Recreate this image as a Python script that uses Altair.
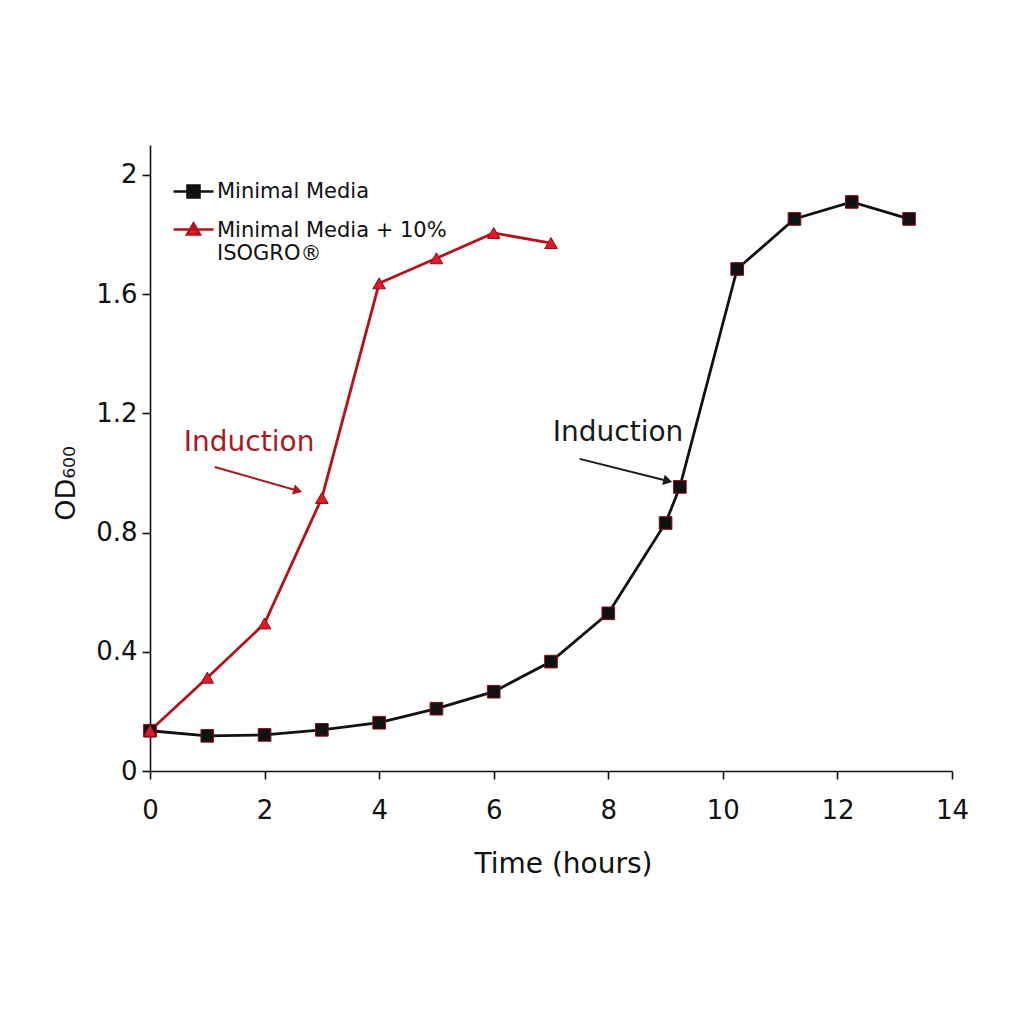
import altair as alt
import pandas as pd

# growth curves
mm_time = [0, 1, 2, 3, 4, 5, 6, 7, 8, 9, 9.25, 10.25, 11.25, 12.25, 13.25]
mm_od = [0.135, 0.118, 0.121, 0.138, 0.162, 0.209, 0.266, 0.367, 0.529, 0.832, 0.953, 1.684, 1.852, 1.909, 1.852]
iso_time = [0, 1, 2, 3, 4, 5, 6, 7]
iso_od = [0.135, 0.313, 0.495, 0.916, 1.636, 1.72, 1.805, 1.771]

series_names = ["Minimal Media", "Minimal Media + 10% ISOGRO®"]
line_colors = ["#111111", "#b3141c"]
marker_colors = ["#111111", "#e3192a"]

# annotations: label position, arrow start/end
ann_label = ["Induction", "Induction"]
ann_series = series_names[::-1]
ann_tx = [1.73, 8.17]
ann_ty = [1.10, 1.135]
ann_x1 = [1.13, 7.5]
ann_y1 = [1.02, 1.047]
ann_x2 = [2.58, 9.04]
ann_y2 = [0.94, 0.973]
ann_angle = [16, 14]

df = pd.concat([
    pd.DataFrame({"time": mm_time, "od": mm_od, "series": series_names[0]}),
    pd.DataFrame({"time": iso_time, "od": iso_od, "series": series_names[1]}),
])
ann = pd.DataFrame({"label": ann_label, "series": ann_series, "tx": ann_tx, "ty": ann_ty,
                    "x1": ann_x1, "y1": ann_y1, "x2": ann_x2, "y2": ann_y2, "angle": ann_angle})

font = "DejaVu Sans"
xs = alt.Scale(domain=[0, 14], nice=False)
ys = alt.Scale(domain=[0, 2.1], nice=False)
x = alt.X("time:Q", scale=xs, title="Time (hours)",
          axis=alt.Axis(values=list(range(0, 15, 2)), format="d", labelFlush=False, grid=False,
                        tickSize=8, labelPadding=18, titlePadding=27, titleFontSize=28, titleX=413))
y = alt.Y("od:Q", scale=ys, title="OD₆₀₀",
          axis=alt.Axis(values=[0, 0.4, 0.8, 1.2, 1.6, 2.0], grid=False, tickSize=8, labelPadding=5,
                        labelFlush=False, titlePadding=15, titleFontSize=27, titleY=338,
                        labelExpr="datum.value == 0 || datum.value == 2 ? format(datum.value, 'd') : format(datum.value, '.1f')"))

line_color = alt.Color("series:N", scale=alt.Scale(domain=series_names, range=line_colors), legend=None)

lines = alt.Chart(df).mark_line(strokeWidth=2.8).encode(x=x, y=y, color=line_color, detail="series:N")

points = alt.Chart(df).mark_point(filled=True, opacity=1, strokeWidth=1, stroke="#8a0c12").encode(
    x=x, y=y,
    fill=alt.Fill("series:N", scale=alt.Scale(domain=series_names, range=marker_colors), legend=None),
    shape=alt.Shape("series:N", scale=alt.Scale(domain=series_names, range=["square", "triangle-up"]), legend=None),
    size=alt.Size("series:N", scale=alt.Scale(domain=series_names, range=[160, 160]), legend=None),
)

# layer with no rows that only drives the legend (line + marker symbols);
# the scale domains are explicit so the legend still lists both series
legend_paths = [
    "M-1,0H1M-0.3,-0.3H0.3V0.3H-0.3Z",
    "M-1,-0.05H1M0,-0.35L0.32,0.2H-0.32Z",
]
legend_def = alt.Legend(title=None, orient="none", legendX=22, legendY=25,
                        symbolSize=1600, symbolStrokeWidth=2.6, symbolOpacity=1,
                        labelFont=font, labelFontSize=21, labelColor="#111",
                        labelLimit=400, labelOffset=2, rowPadding=6,
                        labelExpr="datum.label == 'Minimal Media' ? datum.label : ['Minimal Media + 10%', 'ISOGRO®']")
legend_layer = alt.Chart(df).transform_filter("datum.od < 0").mark_point(filled=True, opacity=1).encode(
    x=x, y=y,
    fill=alt.Fill("series:N", scale=alt.Scale(domain=series_names, range=marker_colors), legend=legend_def),
    stroke=alt.Stroke("series:N", scale=alt.Scale(domain=series_names, range=line_colors), legend=legend_def),
    shape=alt.Shape("series:N", scale=alt.Scale(domain=series_names, range=legend_paths), legend=legend_def),
)

ann_color = alt.Color("series:N", scale=alt.Scale(domain=series_names, range=["#1a1a1a", "#a8181f"]), legend=None)
ann_text = alt.Chart(ann).mark_text(font=font, fontSize=28).encode(
    x=alt.X("tx:Q", scale=xs), y=alt.Y("ty:Q", scale=ys), text="label:N", color=ann_color)
ann_rule = alt.Chart(ann).mark_rule(strokeWidth=2).encode(
    x=alt.X("x1:Q", scale=xs), y=alt.Y("y1:Q", scale=ys),
    x2="x2:Q", y2="y2:Q", color=ann_color)
ann_head = alt.Chart(ann).mark_point(shape="triangle-right", filled=True, opacity=1, size=110).encode(
    x=alt.X("x2:Q", scale=xs), y=alt.Y("y2:Q", scale=ys), angle=alt.Angle("angle:Q", scale=None),
    color=ann_color)

chart = alt.layer(ann_rule, ann_head, ann_text, lines, points, legend_layer).resolve_scale(
    shape="independent", color="independent", size="independent", fill="independent", stroke="independent"
).properties(
    width=802, height=626,
    autosize=alt.AutoSizeParams(type="none"),
    padding={"left": 142, "top": 137, "right": 50, "bottom": 200},
).configure_view(stroke=None).configure_axis(
    labelFont=font, titleFont=font, labelFontSize=26,
    labelColor="#111", titleColor="#111", titleFontWeight="normal",
    domainColor="#111", tickColor="#111", domainWidth=1.6, tickWidth=1.6,
)

chart.save("out.html", embed_options={"renderer": "svg", "actions": False})
